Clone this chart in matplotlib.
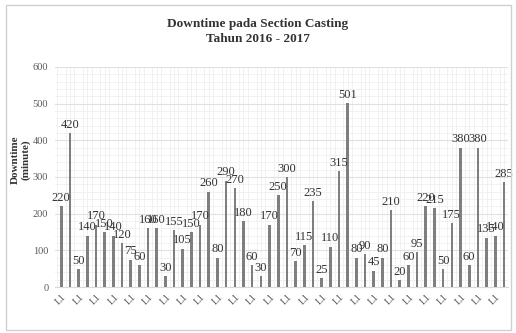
import numpy as np
import matplotlib
matplotlib.use('Agg')
import matplotlib.pyplot as plt
from matplotlib.ticker import MultipleLocator

plt.rcParams['font.family'] = ['Liberation Serif', 'DejaVu Serif']

# data
downtime = [220, 420, 50, 140, 170, 150, 140, 120, 75, 60,
            160, 160, 30, 155, 105, 150, 170, 260, 80, 290,
            270, 180, 60, 30, 170, 250, 300, 70, 115, 235,
            25, 110, 315, 501, 80, 90, 45, 80, 210, 20,
            60, 95, 220, 215, 50, 175, 380, 60, 380, 135,
            140, 285]
line_names = ['L1'] * len(downtime)
y_ticks = [0, 100, 200, 300, 400, 500, 600]

fig = plt.figure(figsize=(5.16, 3.33), dpi=100)
# outer chart border
fig.patches.append(plt.Rectangle((0.012, 0.01), 0.978, 0.975, transform=fig.transFigure,
                                 fill=False, edgecolor='#d0d0d0', linewidth=1))
ax = fig.add_axes([0.107, 0.138, 0.877, 0.661])

x = np.arange(len(downtime))
ax.bar(x, downtime, width=0.3, color='#7f7f7f', zorder=3)
for xi, v in zip(x, downtime):
    ax.text(xi, v + 6, str(v), ha='center', va='bottom', fontsize=9, color='#333333', zorder=4)

ax.set_xlim(-0.69, 51.44)
ax.set_ylim(0, 600)
ax.set_yticks(y_ticks)
ax.tick_params(axis='y', labelsize=7.5, colors='#595959', length=0, pad=5)
ax.set_xticks(x[::2])
ax.set_xticklabels(line_names[::2], rotation=45, fontsize=7, color='#595959')
ax.tick_params(axis='x', length=0, pad=4)

ax.yaxis.set_minor_locator(MultipleLocator(20))
ax.xaxis.set_minor_locator(MultipleLocator(0.5))
ax.grid(which='major', axis='y', color='#e0e0e0', linewidth=0.8, zorder=0)
ax.grid(which='minor', color='#efefef', linewidth=0.6, zorder=0)
ax.tick_params(which='minor', length=0)
for s in ax.spines.values():
    s.set_visible(False)
ax.spines['bottom'].set_visible(True)
ax.spines['bottom'].set_color('#d9d9d9')

fig.text(0.04, 0.52, 'Downtime\n(minute)', rotation=90, ha='center', va='center',
         fontsize=8, fontweight='bold', color='#333333', linespacing=1.1)
fig.text(0.5, 0.905, 'Downtime pada Section Casting\nTahun 2016 - 2017', ha='center', va='center',
         fontsize=9.5, fontweight='bold', color='#333333', linespacing=1.35)

fig.savefig('out.png', dpi=100)
